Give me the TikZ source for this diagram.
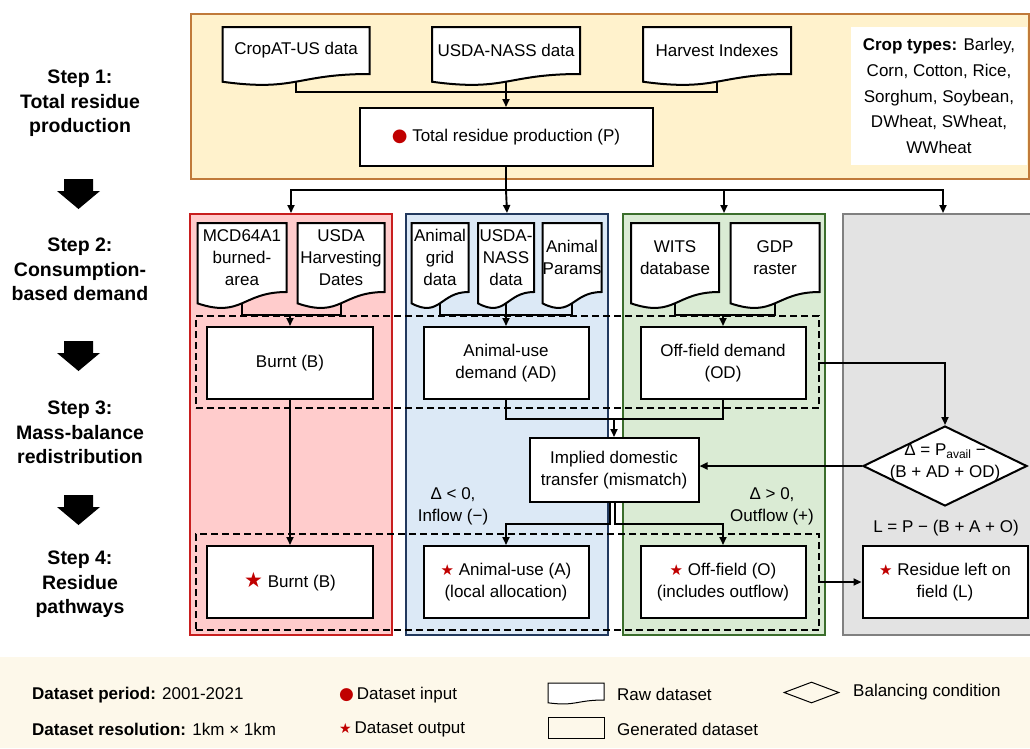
\documentclass[tikz,border=0pt]{standalone}
\usepackage{fontspec}
\setmainfont{Liberation Sans}
\newfontfamily\symf{DejaVu Sans}
\usetikzlibrary{arrows.meta,shapes.geometric,calc}
\definecolor{orfill}{HTML}{FFF2CC}
\definecolor{ordraw}{HTML}{C07A3A}
\definecolor{rfill}{HTML}{FFCCCC}
\definecolor{rdraw}{HTML}{C81E1E}
\definecolor{bfill}{HTML}{DCE9F6}
\definecolor{bdraw}{HTML}{22395E}
\definecolor{gfill}{HTML}{DAEBD4}
\definecolor{gdraw}{HTML}{3B6E2C}
\definecolor{yfill}{HTML}{E3E3E3}
\definecolor{ydraw}{HTML}{808080}
\definecolor{legbg}{HTML}{FDF8EA}
\definecolor{mred}{HTML}{C00000}
\newcommand\mf{\fontsize{17}{22}\selectfont}
\newcommand\mdot[1][17]{{\symf\fontsize{#1}{#1}\selectfont\color{mred}●}}
\newcommand\mstar[1][15]{{\symf\fontsize{#1}{#1}\selectfont\color{mred}★}}
\newcommand\docnode[6]{%
 \draw[docline] ({#2-#4/2},#3) -- ({#2+#4/2},#3) -- ({#2+#4/2},{#3+#5}) .. controls (#2,{#3+#5}) and (#2,{#3+1.381*#5}) .. ({#2-#4/2},{#3+1.1646*#5}) -- cycle;
 \node[docn, minimum width=#4pt, minimum height=#5pt] (#1) at (#2,{#3+#5/2}) {#6};
 \coordinate (#1-b) at (#2,{#3+1.1633*#5});}
\tikzset{
 box/.style={draw, line width=2pt, fill=white, inner sep=0, align=center, font=\mf},
 docline/.style={draw, line width=2pt, fill=white},
 docn/.style={inner sep=0, align=center, font=\mf},
 conn/.style={line width=1.9pt},
 arr/.style={line width=1.9pt, -{Triangle[length=8pt,width=7pt]}},
 col/.style={line width=2pt, inner sep=0, anchor=north west, minimum width=202pt, minimum height=421pt},
 dbox/.style={draw, line width=2pt, dash pattern=on 7pt off 4pt, inner sep=0, anchor=north west, minimum width=623pt},
 lbl/.style={font=\mf, align=center, inner sep=0},
 steplbl/.style={font=\fontsize{19.5}{24.5}\selectfont\bfseries, align=center, inner sep=0},
}
\begin{document}
\begin{tikzpicture}[x=1pt,y=-1pt]
\useasboundingbox (0,0) rectangle (1030,748);
\clip (0,0) rectangle (1030,748);
\fill[white] (0,0) rectangle (1030,748);

% step labels and block arrows
\node[steplbl] (s1) at (80,103.5) {Step 1:\\Total residue\\production};
\node[steplbl] (s2) at (80,269.5) {Step 2:\\Consumption-\\based demand};
\node[steplbl] (s3) at (80,432.5) {Step 3:\\Mass-balance\\redistribution};
\node[steplbl] (s4) at (80,584.6) {Step 4:\\Residue\\pathways};
\foreach \y in {179,341,495}{
 \fill (64,\y) -- (93,\y) -- (93,\y+12) -- (100,\y+12) -- (78.5,\y+30) -- (57,\y+12) -- (64,\y+12) -- cycle;}

% step 1 panel
\node[col, draw=ordraw, fill=orfill, minimum width=838pt, minimum height=165pt] (top) at (190,13) {};
\node[fill=white, minimum width=176pt, minimum height=138pt, inner sep=0, align=center, font=\fontsize{17}{25.7}\selectfont] (crops) at (939,96) {\textbf{Crop types:} Barley,\\Corn, Cotton, Rice,\\Sorghum, Soybean,\\DWheat, SWheat,\\WWheat};
\docnode{crop}{296}{27}{147}{47}{CropAT-US data}
\docnode{nass}{506}{27}{148}{47}{USDA-NASS data}
\docnode{hi}{717}{27}{148}{47}{Harvest Indexes}
\node[box, minimum width=293pt, minimum height=58pt] (P) at (506,137) {\mdot[18] Total residue production (P)};
\coordinate (j1) at (506,92);
\draw[conn] (crop-b) |- (j1) -| (hi-b);
\draw[arr] (nass-b) -- (P.north);

% columns
\node[col, draw=rdraw, fill=rfill] (colR) at (189,213) {};
\node[col, draw=bdraw, fill=bfill] (colB) at (405,213) {};
\node[col, draw=gdraw, fill=gfill] (colG) at (622,213) {};
\node[col, draw=ydraw, fill=yfill, minimum width=200pt] (colY) at (842,213) {};
\coordinate (s0) at (506,190);
\draw[conn] (P.south) -- (s0);
\draw[arr] (s0) -| (colR.north);
\draw[arr] (s0) -- (colB.north);
\draw[arr] (s0) -| (colG.north);
\draw[arr] (s0) -| (colY.north);

% dashed groups
\node[dbox, minimum height=92pt] (d23) at (195,315) {};
\node[dbox, minimum height=96pt] (d4) at (195,533) {};

% red column
\docnode{mcd}{242}{223}{89}{69}{MCD64A1\\burned-\\area}
\docnode{harv}{341}{223}{87}{69}{USDA\\Harvesting\\Dates}
\node[box, minimum width=166pt, minimum height=72pt] (B) at (290,363) {Burnt (B)};
\coordinate (jr) at (290,315);
\draw[conn] (mcd-b) |- (jr) -| (harv-b);
\draw[arr] (jr) -- (B.north);

% blue column
\docnode{grid}{440}{223}{57}{69}{Animal\\grid\\data}
\docnode{nassb}{506}{223}{56}{69}{USDA-\\NASS\\data}
\docnode{params}{572}{223}{59}{69}{\fontsize{17}{20}\selectfont Animal\\Params}
\node[box, minimum width=165pt, minimum height=72pt] (AD) at (506,363) {Animal-use\\demand (AD)};
\coordinate (jb) at (506,315);
\draw[conn] (grid-b) |- (jb) -| (params-b);
\draw[arr] (nassb-b) -- (AD.north);

% green column
\docnode{wits}{675}{223}{88}{69}{WITS\\database}
\docnode{gdp}{775}{223}{89}{69}{GDP\\raster}
\node[box, minimum width=165pt, minimum height=72pt] (OD) at (723,363) {Off-field demand\\(OD)};
\coordinate (jg) at (723,315);
\draw[conn] (wits-b) |- (jg) -| (gdp-b);
\draw[arr] (jg) -- (OD.north);

% step 3
\node[box, minimum width=169pt, minimum height=64pt] (IT) at (614,470) {Implied domestic\\transfer (mismatch)};
\node[diamond, draw, line width=2pt, fill=white, inner sep=0, minimum width=164pt, minimum height=80pt] (D) at (945,466) {};
\node[lbl] (Dt) at (945,462) {Δ = P\raisebox{-0.35ex}{\fontsize{12}{12}\selectfont avail} −\\(B + AD + OD)};
\coordinate (m1) at (614,419);
\draw[conn] (AD.south) |- (m1);
\draw[conn] (OD.south) |- (m1);
\draw[arr] (m1) -- (IT.north);
\coordinate (od1) at (818,363);
\coordinate (od2) at (945,363);
\draw[arr] (od1) -- (od2) -- (D.north);
\coordinate (it1) at (IT.east |- D.west);
\draw[arr] (D.west) -- (it1);

% step 4
\node[box, minimum width=166pt, minimum height=72pt] (B2) at (290,582) {\mstar[21] Burnt (B)};
\node[box, minimum width=165pt, minimum height=72pt] (A) at (506,582) {\mstar\ Animal-use (A)\\(local allocation)};
\node[box, minimum width=165pt, minimum height=72pt] (O) at (723,582) {\mstar\ Off-field (O)\\(includes outflow)};
\node[box, minimum width=165pt, minimum height=72pt] (L) at (945,582) {\mstar\ Residue left on\\field (L)};
\draw[arr] (B.south) -- (B2.north);
\coordinate (bl) at (610,502);
\coordinate (br) at (615,502);
\coordinate (al) at (506,524);
\coordinate (ar) at (723,524);
\draw[arr] (bl) |- (al) -- (A.north);
\draw[arr] (br) |- (ar) -- (O.north);
\coordinate (ol) at (818,582);
\draw[arr] (ol) -- (L.west);
\node[lbl] (inl) at (453,506) {Δ < 0,\\Inflow (−)};
\node[lbl] (outl) at (772,506) {Δ > 0,\\Outflow (+)};
\node[lbl] (leq) at (946,528) {L = P − (B + A + O)};

% legend
\fill[legbg] (0,657) rectangle (1030,748);
\node[lbl, anchor=west] (lp) at (32,695) {\textbf{Dataset period:} 2001-2021};
\node[lbl, anchor=west] (lr) at (32,729) {\textbf{Dataset resolution:} 1km × 1km};
\node[lbl, anchor=west] (li) at (339,695) {\mdot\,Dataset input};
\node[lbl, anchor=west] (lo) at (339,729) {\mstar[14]\,Dataset output};
\begin{scope}[docline/.append style={line width=1pt}]
\docnode{lraw}{576}{683}{56}{17}{}
\end{scope}
\node[lbl, anchor=west] (lrt) at (617,694) {Raw dataset};
\node[draw, line width=1pt, minimum width=56pt, minimum height=21pt, inner sep=0] (lgen) at (576,727.5) {};
\node[lbl, anchor=west] (lgt) at (617,729) {Generated dataset};
\node[diamond, draw, line width=1pt, minimum width=55pt, minimum height=21pt, inner sep=0] (ldia) at (811.5,692.5) {};
\node[lbl, anchor=west] (lbt) at (853,692) {Balancing condition};
\end{tikzpicture}
\end{document}
